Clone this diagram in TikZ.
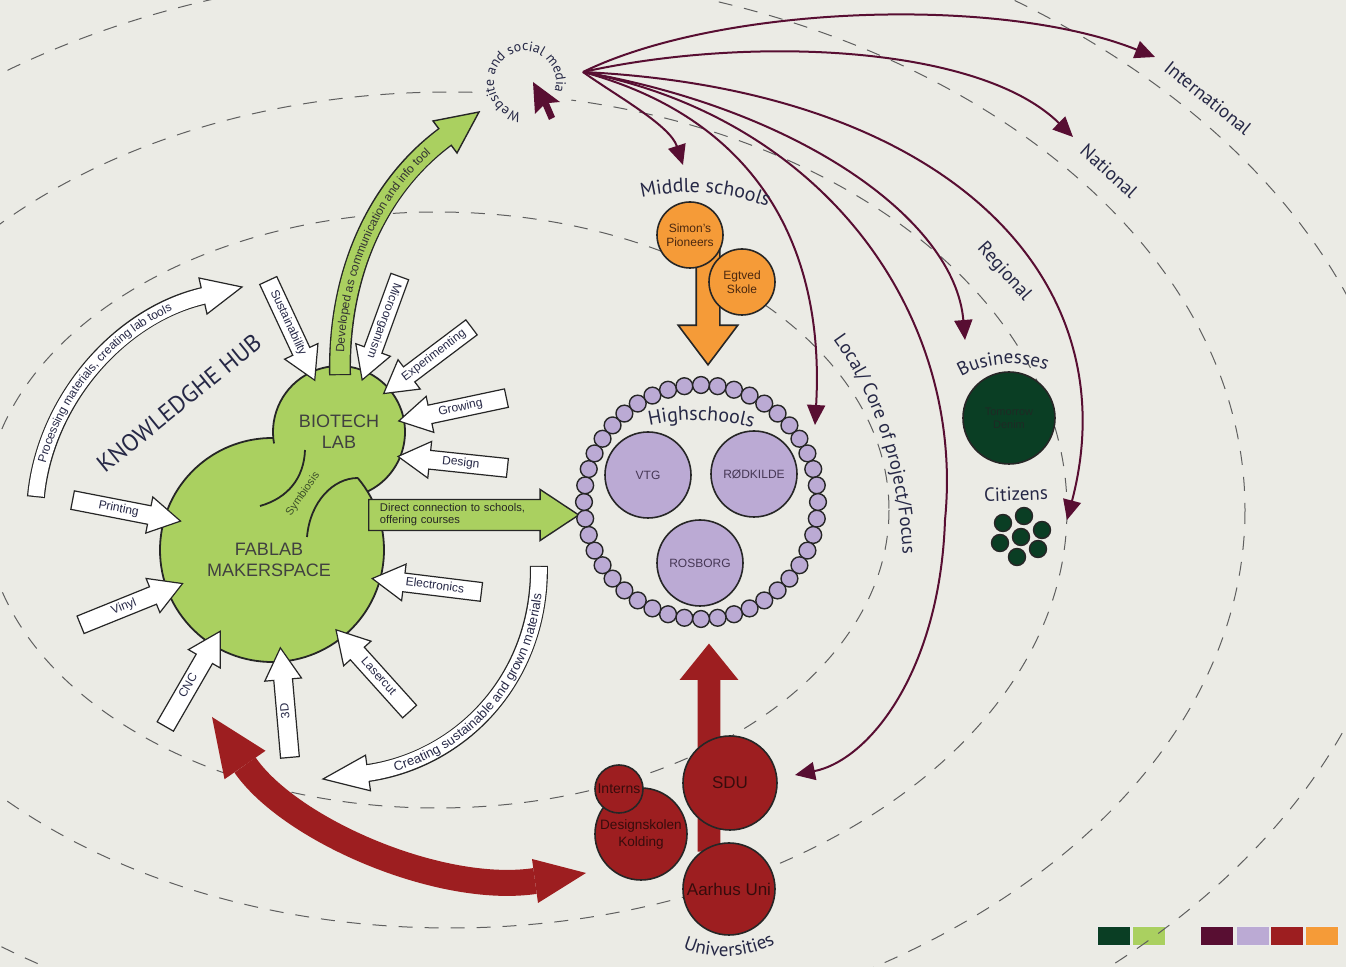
\documentclass[tikz,border=0pt]{standalone}
\usepackage{fontspec}
\setmainfont{Liberation Sans}
\newfontfamily\labelfont{PT Sans}
\usepackage{xcolor}
\usetikzlibrary{shapes.arrows, arrows.meta, decorations.text}

\definecolor{paper}{RGB}{235,235,229}
\definecolor{hubgreen}{RGB}{170,208,96}
\definecolor{forest}{RGB}{10,62,36}
\definecolor{wine}{RGB}{88,14,50}
\definecolor{lilac}{RGB}{187,170,212}
\definecolor{brick}{RGB}{157,30,32}
\definecolor{amber}{RGB}{245,155,56}
\definecolor{ink}{RGB}{38,40,70}
\definecolor{orbitgray}{RGB}{95,95,95}
\definecolor{amberink}{RGB}{75,40,15}
\definecolor{lilacink}{RGB}{70,55,85}
\definecolor{brickink}{RGB}{55,12,12}
\definecolor{forestink}{RGB}{30,42,36}

\newcommand{\tagfont}{\fontsize{6}{7}\selectfont}
\newcommand{\groupfont}{\labelfont\fontsize{10}{12}\selectfont}

\tikzset{
    hub/.style={
        circle,
        fill=hubgreen,
        inner sep=0pt,
        font=\fontsize{9}{10.5}\selectfont,
        text=black!75,
        align=center
    },
    hubline/.style={
        draw=black!85,
        line width=0.9pt
    },
    midschool/.style={
        circle,
        fill=amber,
        draw=black!85,
        line width=0.8pt,
        minimum size=33pt,
        inner sep=0pt,
        font=\fontsize{6}{7}\selectfont,
        text=amberink,
        align=center
    },
    highschool/.style={
        circle,
        fill=lilac,
        draw=black!85,
        line width=0.8pt,
        minimum size=43pt,
        inner sep=0pt,
        font=\fontsize{6}{7}\selectfont,
        text=lilacink
    },
    bead/.style={
        circle,
        fill=lilac,
        draw=black!85,
        line width=0.7pt,
        minimum size=8.4pt,
        inner sep=0pt
    },
    uni/.style={
        circle,
        fill=brick,
        draw=black!85,
        line width=0.8pt,
        inner sep=0pt,
        text=brickink,
        align=center
    },
    business/.style={
        circle,
        fill=forest,
        draw=black!85,
        line width=0.8pt,
        minimum size=46pt,
        inner sep=0pt,
        font=\fontsize{5.5}{6.5}\selectfont,
        text=forestink,
        align=center
    },
    citizen/.style={
        circle,
        fill=forest,
        draw=black!85,
        line width=0.7pt,
        minimum size=8.5pt,
        inner sep=0pt
    },
    inarrow/.style={
        single arrow,
        draw=black!85,
        fill=white,
        line width=0.6pt,
        anchor=tail,
        minimum height=55pt,
        single arrow head extend=4.5pt,
        single arrow tip angle=60,
        inner xsep=2pt,
        inner ysep=1.5pt,
        text height=4.4pt,
        text depth=1.4pt,
        font=\tagfont,
        text=ink
    },
    outarrow/.style={
        inarrow,
        shape border rotate=180
    },
    blockarrow/.style={
        single arrow,
        anchor=tail,
        inner sep=0pt,
        inner ysep=5.5pt,
        text height=0pt,
        text depth=0pt,
        single arrow head extend=9pt
    },
    tier/.style={
        font=\labelfont\fontsize{9.5}{11}\selectfont,
        text=ink,
        inner sep=0pt
    },
    orbit/.style={
        draw=orbitgray,
        line width=0.5pt,
        dash pattern=on 7pt off 6pt
    },
    reach/.style={
        draw=wine,
        line width=1pt,
        -{Triangle[length=10pt, width=9pt]}
    },
    swatch/.style={
        rectangle,
        minimum width=16.5pt,
        minimum height=9.5pt,
        inner sep=0pt,
        draw=white!85!gray,
        line width=0.3pt
    }
}

\begin{document}
\begin{tikzpicture}[x=0.5pt, y=-0.5pt]

\fill[paper] (0,0) rectangle (1346,967);
\useasboundingbox (0,0) rectangle (1346,967);

% colour key
\node[swatch, fill=forest] (keyforest) at (1113.5,935.5) {};
\node[swatch, fill=hubgreen] (keyhub) at (1148.5,935.5) {};
\node[swatch, fill=wine] (keywine) at (1217,935.5) {};
\node[swatch, fill=lilac] (keylilac) at (1252.5,935.5) {};
\node[swatch, fill=brick] (keybrick) at (1286.5,935.5) {};
\node[swatch, fill=amber] (keyamber) at (1321.5,935.5) {};

% orbits
\begin{scope}
\clip (0,0) rectangle (1346,967);
\draw[orbit] (437,510) ellipse [x radius=452, y radius=298];
\draw[orbit] (450,510) ellipse [x radius=617, y radius=418];
\draw[orbit] (460,510) ellipse [x radius=785, y radius=538];
\draw[orbit] (460,510) ellipse [x radius=943, y radius=630];
\end{scope}
\fill[paper] (525,81) circle[radius=50];

% reach of the website
\coordinate (web) at (583,72);
\coordinate (toIntl) at (1155,57);
\coordinate (toNatl) at (1073,137);
\coordinate (toCitizens) at (1067,520);
\coordinate (toBusiness) at (965,340);
\coordinate (toSdu) at (795,775);
\coordinate (toHigh) at (815,425);
\coordinate (toMiddle) at (683,165);
\draw[reach] (web) .. controls (720,5) and (1000,-5) .. (toIntl);
\draw[reach] (web) .. controls (750,35) and (980,45) .. (toNatl);
\draw[reach] (web) .. controls (950,90) and (1130,280) .. (toCitizens);
\draw[reach] (web) .. controls (800,110) and (955,220) .. (toBusiness);
\draw[reach] (web) .. controls (830,120) and (965,320) .. (945,520)
    .. controls (940,670) and (870,760) .. (toSdu);
\draw[reach] (web) .. controls (760,120) and (825,250) .. (toHigh);
\draw[reach] (web) .. controls (615,95) and (670,125) .. (toMiddle);

% universities <-> fablab
\draw[line width=13pt, brick] (245,765) .. controls (290,830) and (440,895) .. (535,881);
\fill[brick] (265.5,750.8) -- (212,717) -- (224.5,779.2) -- cycle;
\fill[brick] (538,903) -- (586,873) -- (532,859) -- cycle;

% curved knowledge arrows
\draw[line width=9pt, black!85, shorten <=-0.6pt] (36,496) .. controls (45,400) and (120,315) .. (203,296);
\filldraw[fill=white, draw=black!85, line width=0.6pt] (207,314) -- (242,287) -- (199,278) -- cycle;
\draw[line width=7.8pt, white, shorten >=-1pt] (36,496) .. controls (45,400) and (120,315) .. (203,296);
\path[decorate, decoration={text along path, text align=center, raise=-2pt,
    text={|\tagfont\color{ink}|Processing materials, creating lab tools}}]
    (36,496) .. controls (45,400) and (120,315) .. (203,296);

\draw[line width=9pt, black!85, shorten <=-0.6pt] (539,567) .. controls (540,680) and (460,760) .. (368,773);
\filldraw[fill=white, draw=black!85, line width=0.6pt] (370.5,790.8) -- (323,779) -- (365.5,755.2) -- cycle;
\draw[line width=7.8pt, white, shorten >=-1pt] (539,567) .. controls (540,680) and (460,760) .. (368,773);
\path[decorate, decoration={text along path, text align=center, raise=-2pt,
    text={|\fontsize{6.5}{7}\selectfont\color{ink}|Creating sustainable and grown materials}}]
    (368,773) .. controls (460,760) and (540,680) .. (539,567);

% fablab and biotech lab
\node[hub, minimum size=112pt] (fablab) at (272,550) {};
\node[hub, minimum size=66pt] (biotech) at (339,432) {BIOTECH\\LAB};
\draw[hubline] (272,550) ++(-40:112) arc[start angle=-40, end angle=270.6, radius=112];
\draw[hubline] (339,432) ++(64.3:66) arc[start angle=64.3, end angle=-190, radius=66];
\draw[hubline] (357.8,478) .. controls (333,478) and (310,502) .. (307,537);
\draw[hubline] (305,450) .. controls (304,478) and (288,498) .. (260,506);
\node[hub, fill=none] (fablabname) at (269,560) {FABLAB\\MAKERSPACE};
\node[font=\fontsize{5.5}{6}\selectfont, text={rgb,255:red,60;green,80;blue,40}, rotate=55] (symbiosis) at (303,494) {Symbiosis};

% inputs
\node[inarrow, rotate=-11] (printing) at (72,500) {Printing};
\node[inarrow, rotate=22] (vinyl) at (80,625) {Vinyl};
\node[inarrow, rotate=60] (cnc) at (165,727) {CNC};
\node[inarrow, rotate=95] (threed) at (290,758) {3D};
\node[outarrow, rotate=-48] (lasercut) at (410,712) {Lasercut};
\node[outarrow, rotate=-7] (electronics) at (482,592) {Electronics};
\node[outarrow, rotate=-6] (design) at (508,468) {Design};
\node[outarrow, rotate=12] (growing) at (507,398) {Growing};
\node[outarrow, rotate=37] (experimenting) at (472,327) {Experimenting};
\node[inarrow, rotate=-110] (microorganism) at (400,276) {Microorganism};
\node[inarrow, rotate=-65] (sustainability) at (268,280) {Sustainability};

% outputs of the hub
\draw[line width=11pt, black!85, shorten <=-0.6pt] (340,374) .. controls (338,270) and (380,185) .. (445,137);
\filldraw[fill=hubgreen, draw=black!85, line width=0.7pt] (457,153) -- (479,112) -- (433,121) -- cycle;
\draw[line width=9.6pt, hubgreen, shorten >=-1pt] (340,374) .. controls (338,270) and (380,185) .. (445,137);
\path[decorate, decoration={text along path, text align=center, raise=-2pt,
    text={|\tagfont\color{black!80}|Developed as communication and info tool}}]
    (340,374) .. controls (338,270) and (380,185) .. (445,137);

\node[single arrow, draw=black!85, fill=hubgreen, line width=0.7pt, anchor=tail,
    minimum height=105pt, single arrow head extend=5pt, single arrow tip angle=67,
    inner xsep=2pt, inner ysep=1.8pt, text width=82pt, align=left,
    font=\fontsize{5.6}{6}\selectfont, text=black!85] (direct) at (368,515)
    {Direct connection to schools,\\offering courses};

% middle schools
\node[blockarrow, fill=amber, draw=black!85, line width=0.8pt, rotate=-90,
    minimum height=62pt, single arrow tip angle=74] (feed) at (708,240) {};
\node[midschool] (simon) at (690,235) {Simon's\\Pioneers};
\node[midschool] (egtved) at (742,282) {Egtved\\Skole};

% highschools
\foreach \k in {1,...,44}
    \node[bead] (bead\k) at ({701+117*cos(\k*360/44)}, {502+117*sin(\k*360/44)}) {};
\node[highschool] (vtg) at (648,475) {VTG};
\node[highschool] (rodkilde) at (754,474) {RØDKILDE};
\node[highschool] (rosborg) at (700,563) {ROSBORG};

% universities
\node[blockarrow, fill=brick, rotate=90, minimum height=104pt,
    single arrow tip angle=78] (lift) at (709,852) {};
\node[uni, minimum size=46pt, font=\fontsize{6.8}{8.5}\selectfont] (designskolen) at (641,834) {Designskolen\\Kolding};
\node[uni, minimum size=24pt, font=\fontsize{7}{8}\selectfont] (interns) at (619,789) {Interns};
\node[uni, minimum size=47pt, font=\fontsize{8.5}{10}\selectfont] (sdu) at (730,783) {SDU};
\node[uni, minimum size=46pt, font=\fontsize{8.5}{10}\selectfont] (aarhus) at (729,889) {Aarhus Uni};

% businesses and citizens
\node[business] (denim) at (1009,418) {Tomorrow\\Denim};
\node[citizen] (cit1) at (1003,523) {};
\node[citizen] (cit2) at (1024,516) {};
\node[citizen] (cit3) at (1042,530) {};
\node[citizen] (cit4) at (1021,537) {};
\node[citizen] (cit5) at (1000,543) {};
\node[citizen] (cit6) at (1038,549) {};
\node[citizen] (cit7) at (1017,557) {};

% group labels
\path[decorate, decoration={text along path, text align=center,
    text={|\groupfont\color{ink}|Middle schools}}]
    (641,198) .. controls (680,189) and (725,190) .. (768,207);
\path[decorate, decoration={text along path, text align=center,
    text={|\groupfont\color{ink}|Highschools}}]
    (646,426) .. controls (680,418) and (720,418) .. (756,429);
\path[decorate, decoration={text along path, text align=center,
    text={|\labelfont\fontsize{9.5}{11}\selectfont\color{ink}|Businesses}}]
    (956,380) .. controls (980,362) and (1025,358) .. (1052,373);
\path[decorate, decoration={text along path, text align=center,
    text={|\labelfont\fontsize{9.5}{11}\selectfont\color{ink}|Universities}}]
    (680,947) .. controls (705,960) and (750,960) .. (778,942);
\node[tier, rotate=2] (citizens) at (1016,494) {Citizens};

% reach levels
\node[tier, rotate=-39] (intl) at (1208,98) {International};
\node[tier, rotate=-42] (natl) at (1109,171) {National};
\node[tier, rotate=-48] (regl) at (1004,272) {Regional};
\path[decorate, decoration={text along path, text align=center,
    text={|\labelfont\fontsize{9.5}{11}\selectfont\color{ink}|Local/ Core of project/Focus}}]
    (832,338) .. controls (870,390) and (898,460) .. (903,556);
\node[tier, font=\labelfont\fontsize{12}{14}\selectfont, rotate=39] (knowhub) at (179,403) {KNOWLEDGHE HUB};

% website
\path[decorate, decoration={text along path, text align=center,
    text={|\labelfont\fontsize{7}{8}\selectfont\color{ink}|Website and social media}}]
    (525,82) ++(100:31) arc[start angle=100, end angle=375, radius=31];
\fill[wine] (533,82) -- (535,114) -- (543,106) -- (549,120) -- (555,117) -- (549,103) -- (560,102) -- cycle;

\end{tikzpicture}
\end{document}
